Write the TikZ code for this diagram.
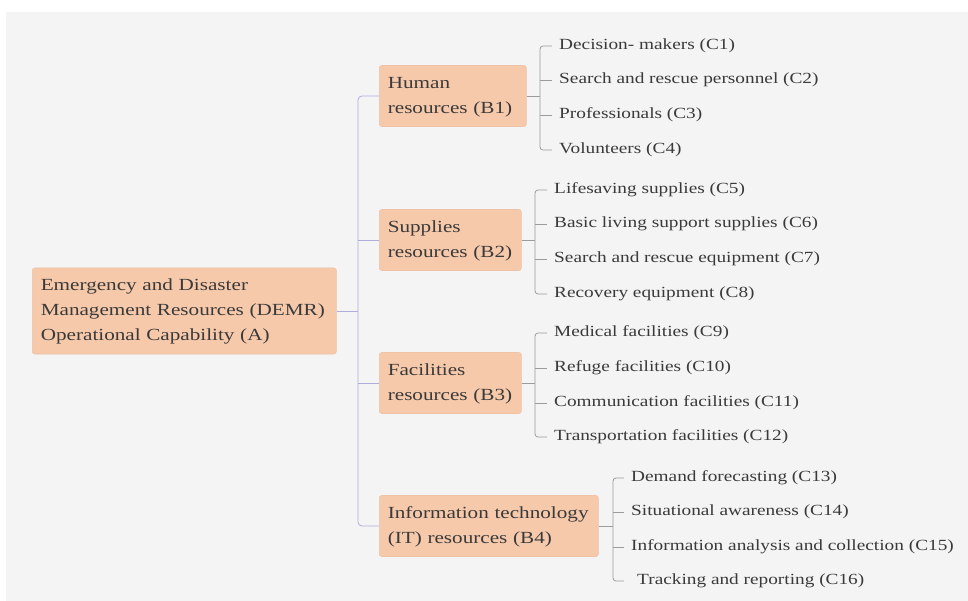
\documentclass[tikz,border=0pt]{standalone}
\usepackage{fontspec}
\setmainfont[FakeStretch=1.245]{Liberation Serif}
\definecolor{bg}{HTML}{F4F4F4}
\definecolor{boxfill}{HTML}{F7C9AB}
\definecolor{boxline}{HTML}{EEC3A6}
\definecolor{trunk}{HTML}{AFADDC}
\definecolor{twig}{HTML}{9C9C9C}
\definecolor{ink}{HTML}{3A3A3A}
\begin{document}
\begin{tikzpicture}[x=1pt,y=-1pt,
  mainbox/.style={draw=boxline, fill=boxfill, rounded corners=2.5pt, anchor=west, align=left,
    inner xsep=8.5pt, inner ysep=0pt, text=ink, font=\fontsize{17}{25}\selectfont, line width=0.6pt},
  leaf/.style={anchor=west, inner xsep=7pt, inner ysep=2pt, text=ink, font=\fontsize{15.5}{18}\selectfont},
  trunkline/.style={draw=trunk, line width=0.8pt, rounded corners=4pt},
  twigline/.style={draw=twig, line width=0.8pt, rounded corners=3pt}]
\useasboundingbox (0,0) rectangle (968,601);
\fill[bg] (6,12) rectangle (968,601);

% root
\node[mainbox, minimum width=304pt, minimum height=86pt, text width=287pt] (A) at (32,311)
  {\rule{0pt}{13pt}Emergency and Disaster\\Management Resources (DEMR)\\Operational Capability (A)};

% B level
\node[mainbox, minimum width=147pt, minimum height=61pt, text width=130pt] (B1) at (379,96) {\rule{0pt}{13pt}Human\\resources (B1)};
\node[mainbox, minimum width=142pt, minimum height=61pt, text width=125pt] (B2) at (379,240) {\rule{0pt}{13pt}Supplies\\resources (B2)};
\node[mainbox, minimum width=142pt, minimum height=61pt, text width=125pt] (B3) at (379,383) {\rule{0pt}{13pt}Facilities\\resources (B3)};
\node[mainbox, minimum width=219pt, minimum height=61pt, text width=202pt] (B4) at (379,526) {\rule{0pt}{13pt}Information technology\\(IT) resources (B4)};

\coordinate (tA) at (358,311);
\draw[trunkline] (A.east) -- (tA);
\draw[trunkline] (B1.west) -- (B1.west -| tA) -- (B4.west -| tA) -- (B4.west);
\draw[trunkline] (B2.west) -- (B2.west -| tA);
\draw[trunkline] (B3.west) -- (B3.west -| tA);

% C level, group 1
\node[leaf] (C1) at (552,46) {Decision- makers (C1)};
\node[leaf] (C2) at (552,80) {Search and rescue personnel (C2)};
\node[leaf] (C3) at (552,115) {Professionals (C3)};
\node[leaf] (C4) at (552,150) {Volunteers (C4)};
\coordinate (j1) at (540,96);
\draw[twigline] (B1.east) -- (j1);
\draw[twigline] (C1.west) -- (C1.west -| j1) -- (C4.west -| j1) -- (C4.west);
\draw[twigline] (C2.west) -- (C2.west -| j1);
\draw[twigline] (C3.west) -- (C3.west -| j1);

% group 2
\node[leaf] (C5) at (547,190) {Lifesaving supplies (C5)};
\node[leaf] (C6) at (547,224) {Basic living support supplies (C6)};
\node[leaf] (C7) at (547,259) {Search and rescue equipment (C7)};
\node[leaf] (C8) at (547,294) {Recovery equipment (C8)};
\coordinate (j2) at (535,240);
\draw[twigline] (B2.east) -- (j2);
\draw[twigline] (C5.west) -- (C5.west -| j2) -- (C8.west -| j2) -- (C8.west);
\draw[twigline] (C6.west) -- (C6.west -| j2);
\draw[twigline] (C7.west) -- (C7.west -| j2);

% group 3
\node[leaf] (C9) at (547,333) {Medical facilities (C9)};
\node[leaf] (C10) at (547,368) {Refuge facilities (C10)};
\node[leaf] (C11) at (547,403) {Communication facilities (C11)};
\node[leaf] (C12) at (547,437) {Transportation facilities (C12)};
\coordinate (j3) at (535,383);
\draw[twigline] (B3.east) -- (j3);
\draw[twigline] (C9.west) -- (C9.west -| j3) -- (C12.west -| j3) -- (C12.west);
\draw[twigline] (C10.west) -- (C10.west -| j3);
\draw[twigline] (C11.west) -- (C11.west -| j3);

% group 4
\node[leaf] (C13) at (624,478) {Demand forecasting (C13)};
\node[leaf] (C14) at (624,512) {Situational awareness (C14)};
\node[leaf] (C15) at (624,547) {Information analysis and collection (C15)};
\node[leaf, inner xsep=0pt] (C16) at (624,581) {\hspace{13pt}Tracking and reporting (C16)};
\coordinate (j4) at (613,526);
\draw[twigline] (B4.east) -- (j4);
\draw[twigline] (C13.west) -- (C13.west -| j4) -- (C16.west -| j4) -- (C16.west);
\draw[twigline] (C14.west) -- (C14.west -| j4);
\draw[twigline] (C15.west) -- (C15.west -| j4);
\end{tikzpicture}
\end{document}
